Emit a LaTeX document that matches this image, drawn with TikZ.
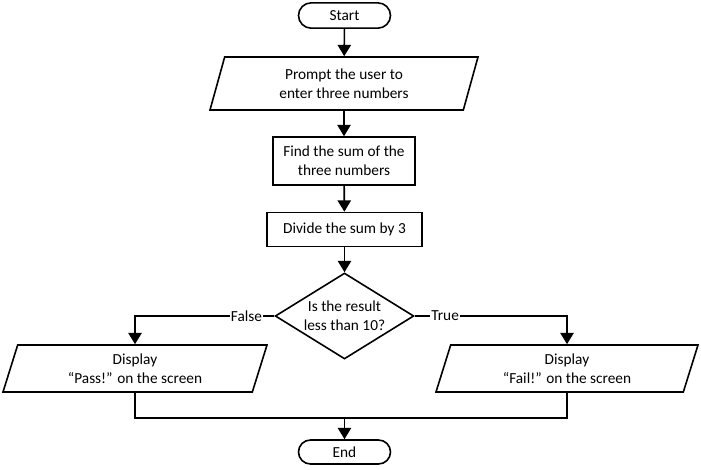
\documentclass[tikz,border=0pt]{standalone}
\usepackage{fontspec}
\setmainfont{Carlito}
\usetikzlibrary{shapes.geometric, arrows.meta}
\tikzset{
terminal/.style={draw, rectangle, rounded corners=9.5pt, minimum width=69pt, minimum height=19pt, inner sep=0pt},
process/.style={draw, rectangle, align=center, inner sep=0pt},
io/.style={draw, trapezium, trapezium left angle=64, trapezium right angle=116, trapezium stretches body, align=center, inner sep=0pt},
decision/.style={draw, diamond, aspect=1.6, align=center, inner sep=0pt, minimum width=104pt, minimum height=64.5pt},
flow/.style={-{Triangle[width=10pt,length=8.5pt]}},
branch/.style={fill=white, inner sep=1pt}
}
\begin{document}
\begin{tikzpicture}[x=0.75pt, y=-0.75pt, line width=1.2pt, font=\fontsize{11.5}{14.5}\selectfont]
\useasboundingbox (0,0) rectangle (701,469);
\node[terminal] (start) at (344.5,15.5) {Start};
\node[io, minimum width=201pt, minimum height=39.75pt] (prompt) at (344,83.5) {Prompt the user to\\enter three numbers};
\node[process, minimum width=106.5pt, minimum height=36pt] (find) at (344,161) {Find the sum of the\\three numbers};
\node[process, minimum width=116pt, minimum height=25.5pt] (divide) at (344.5,229.5) {Divide the sum by 3};
\node[decision] (decide) at (344.5,316) {Is the result\\less than 10?};
\node[io, minimum width=198pt, minimum height=35.25pt] (pass) at (135,368.5) {Display\\``Pass!'' on the screen};
\node[io, minimum width=196.5pt, minimum height=35.25pt] (fail) at (567,368.5) {Display\\``Fail!'' on the screen};
\node[terminal, minimum height=18pt, rounded corners=9pt] (end) at (344.5,452) {End};
\coordinate (merge) at (344.5,418);
\draw[flow] (start) -- (prompt);
\draw[flow] (prompt) -- (find);
\draw[flow] (find) -- (divide);
\draw[flow] (divide) -- (decide);
\draw[flow] (decide.west) -| node[branch, pos=0.1] {False} (pass.north);
\draw[flow] (decide.east) -| node[branch, pos=0.1] {True} (fail.north);
\draw (pass.south) |- (merge) -| (fail.south);
\draw[flow] (merge) -- (end);
\end{tikzpicture}
\end{document}
